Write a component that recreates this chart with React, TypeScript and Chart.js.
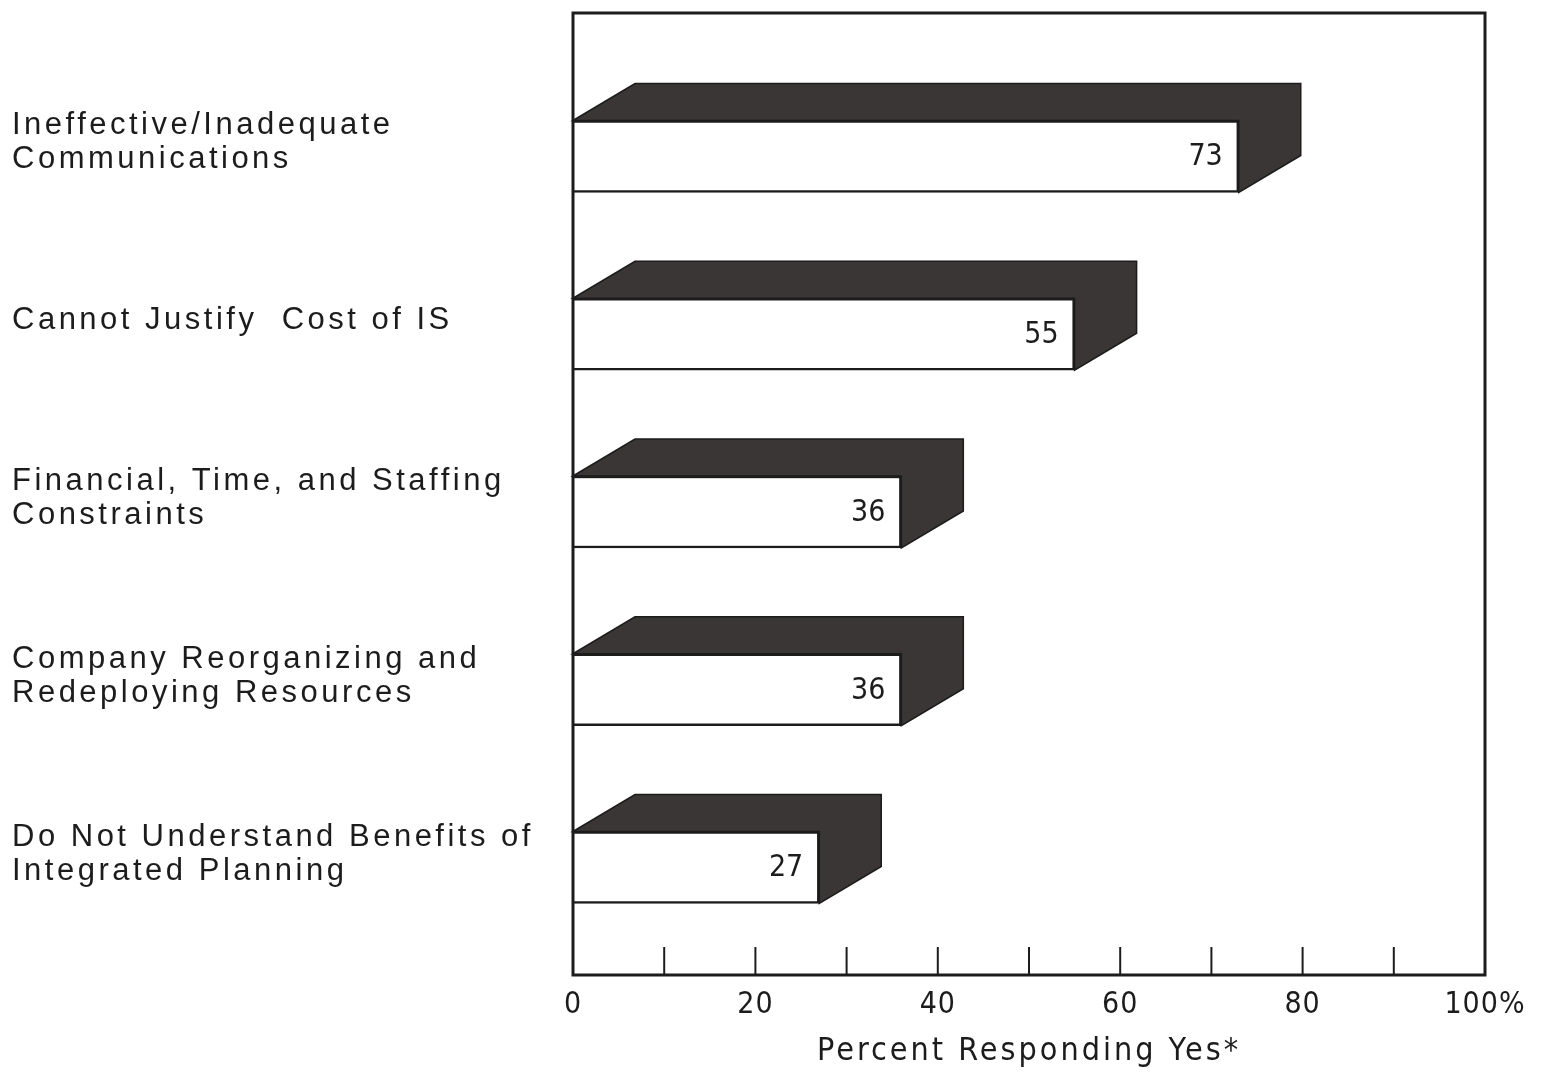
import React, { useEffect, useRef } from 'react';
import { Chart, registerables } from 'chart.js';

Chart.register(...registerables);

// ---- data ----
const categories: string[][] = [
  ['Ineffective/Inadequate', 'Communications'],
  ['Cannot Justify  Cost of IS'],
  ['Financial, Time, and Staffing', 'Constraints'],
  ['Company Reorganizing and', 'Redeploying Resources'],
  ['Do Not Understand Benefits of', 'Integrated Planning'],
];
const percentYes: number[] = [73, 55, 36, 36, 27];
const labeledTicks: number[] = [0, 20, 40, 60, 80, 100];
const tickText: string[] = ['0', '20', '40', '60', '80', '100%'];
const innerTicks: number[] = [10, 20, 30, 40, 50, 60, 70, 80, 90];
const axisTitle = 'Percent Responding Yes*';

// ---- style ----
const INK = '#1c1c1c';
const DEPTH_COLOR = '#3b3636';
const DX = 62;
const DY = 37;
const NARROW = '"Liberation Sans Narrow", "DejaVu Sans Condensed", "DejaVu Sans Mono", monospace';
const SANS = '"Liberation Sans", "DejaVu Sans", sans-serif';

function patchSpacing(s: any, labelSpacing: string, titleSpacing: string) {
  if (s.__patched) return;
  s.__patched = true;
  const dl = s.drawLabels;
  s.drawLabels = function (a: any) {
    this.ctx.letterSpacing = labelSpacing;
    dl.call(this, a);
    this.ctx.letterSpacing = '0px';
  };
  const dt = s.drawTitle;
  s.drawTitle = function (a: any) {
    this.ctx.letterSpacing = titleSpacing;
    dt.call(this, a);
    this.ctx.letterSpacing = '0px';
  };
}

const threeDPlugin = {
  id: 'threeD',
  beforeDraw(chart: any) {
    const ctx = chart.ctx;
    ctx.save();
    ctx.fillStyle = '#ffffff';
    ctx.fillRect(0, 0, chart.width, chart.height);
    ctx.restore();
  },
  beforeDatasetsDraw(chart: any) {
    const ctx = chart.ctx;
    const meta = chart.getDatasetMeta(0);
    ctx.save();
    ctx.fillStyle = DEPTH_COLOR;
    ctx.strokeStyle = INK;
    ctx.lineWidth = 1.5;
    meta.data.forEach((bar: any) => {
      const { x, y, base, height } = bar.getProps(['x', 'y', 'base', 'height'], true);
      const top = y - height / 2;
      const bottom = y + height / 2;
      ctx.beginPath();
      ctx.moveTo(base, top);
      ctx.lineTo(base + DX, top - DY);
      ctx.lineTo(x + DX, top - DY);
      ctx.lineTo(x + DX, bottom - DY);
      ctx.lineTo(x, bottom);
      ctx.lineTo(x, top);
      ctx.closePath();
      ctx.fill();
      ctx.stroke();
    });
    ctx.restore();
  },
  afterDatasetsDraw(chart: any) {
    const ctx = chart.ctx;
    const meta = chart.getDatasetMeta(0);
    const area = chart.chartArea;
    const xs = chart.scales.x;
    ctx.save();
    ctx.letterSpacing = '0px';
    // value labels
    ctx.fillStyle = INK;
    ctx.font = `30px ${NARROW}`;
    ctx.textAlign = 'right';
    ctx.textBaseline = 'middle';
    meta.data.forEach((bar: any, i: number) => {
      const { x, y } = bar.getProps(['x', 'y'], true);
      ctx.fillText(String(percentYes[i]), x - 16, y + 1);
    });
    // frame
    ctx.strokeStyle = INK;
    ctx.lineWidth = 3;
    ctx.strokeRect(area.left, area.top, area.right - area.left, area.bottom - area.top);
    // inward tick marks
    ctx.lineWidth = 2;
    innerTicks.forEach((v) => {
      const px = xs.getPixelForValue(v);
      ctx.beginPath();
      ctx.moveTo(px, area.bottom);
      ctx.lineTo(px, area.bottom - 28);
      ctx.stroke();
    });
    ctx.restore();
  },
};

export default function App() {
  const ref = useRef<HTMLCanvasElement | null>(null);

  useEffect(() => {
    if (!ref.current) return;
    const chart = new Chart(ref.current, {
      type: 'bar',
      data: {
        datasets: [
          {
            label: 'Percent Responding Yes',
            data: percentYes.map((v, i) => ({ x: v, y: i })) as any,
            backgroundColor: '#ffffff',
            borderColor: INK,
            borderWidth: 2.5,
            barThickness: 72,
            xAxisID: 'x',
            yAxisID: 'y',
          },
        ],
      },
      options: {
        indexAxis: 'y',
        animation: false,
        responsive: true,
        maintainAspectRatio: false,
        layout: { padding: { left: 4, right: 52, top: 5, bottom: 0 } },
        plugins: {
          legend: { display: false },
          tooltip: { enabled: false },
        },
        scales: {
          x: {
            type: 'linear',
            position: 'bottom',
            min: 0,
            max: 100,
            offset: false,
            grid: { display: false, drawTicks: false },
            border: { display: false },
            afterBuildTicks: (s: any) => {
              s.ticks = labeledTicks.map((v) => ({ value: v }));
            },
            ticks: {
              autoSkip: false,
              maxRotation: 0,
              padding: 12,
              color: INK,
              font: { family: NARROW, size: 30 },
              callback: (v: any) => {
                const idx = labeledTicks.indexOf(Number(v));
                return idx >= 0 ? tickText[idx] : '';
              },
            },
            title: {
              display: true,
              text: axisTitle,
              color: INK,
              font: { family: NARROW, size: 32, lineHeight: 1 },
              padding: { top: 6, bottom: 0 },
            },
            afterFit: (s: any) => {
              s.height = 93;
              patchSpacing(s, '1px', '3px');
            },
          },
          y: {
            type: 'linear',
            reverse: true,
            offset: false,
            min: -0.8073,
            max: 4.6048,
            display: false,
          },
          yLabels: {
            type: 'linear',
            position: 'left',
            reverse: true,
            offset: false,
            min: -0.73,
            max: 4.68,
            grid: { display: false, drawTicks: false, offset: false },
            border: { display: false },
            afterBuildTicks: (s: any) => {
              s.ticks = categories.map((_, i) => ({ value: i }));
            },
            ticks: {
              autoSkip: false,
              crossAlign: 'far',
              padding: 0,
              color: INK,
              font: { family: SANS, size: 31, lineHeight: 1.1 },
              callback: (v: any) => categories[Number(v)] ?? '',
            },
            afterFit: (s: any) => {
              s.width = 561;
              s.paddingTop = 0;
              s.paddingBottom = 0;
              patchSpacing(s, '3.5px', '0px');
            },
          },
        } as any,
      },
      plugins: [threeDPlugin],
    });
    return () => chart.destroy();
  }, []);

  return (
    <div style={{ width: '1529px', height: '1060px', position: 'relative' }}>
      <canvas ref={ref} />
    </div>
  );
}
